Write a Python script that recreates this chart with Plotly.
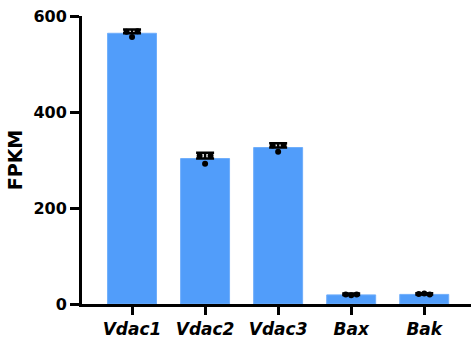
import plotly.graph_objects as go

genes = ["Vdac1", "Vdac2", "Vdac3", "Bax", "Bak"]
means = [564, 303, 326, 19, 20]
errors = [8, 12, 9, 3, 2.5]
rep1 = [567, 309, 330, 20, 21]
rep2 = [556, 292, 317, 18, 22]
rep3 = [568, 309, 331, 20, 20]
y_ticks = [0, 200, 400, 600]

xpos = list(range(len(genes)))

fig = go.Figure()
fig.add_trace(go.Bar(
    x=xpos, y=means, width=0.67,
    marker=dict(color="#519DFA", line=dict(color="#6FAEFB", width=1)),
    error_y=dict(type="data", array=errors, arrayminus=[0]*len(errors),
                 symmetric=False, color="black", thickness=2.5, width=9),
    cliponaxis=False, showlegend=False,
))
off = 0.075
for reps, dx in [(rep1, -off), (rep2, 0), (rep3, off)]:
    fig.add_trace(go.Scatter(
        x=[p + dx for p in xpos], y=reps, mode="markers",
        marker=dict(color="black", size=6),
        cliponaxis=False, showlegend=False,
    ))

font_family = "DejaVu Sans, Arial, sans-serif"
fig.update_layout(
    width=471, height=345,
    margin=dict(l=82, r=0, t=16, b=41, autoexpand=False),
    plot_bgcolor="white", paper_bgcolor="white",
    font=dict(family=font_family, color="black"),
    xaxis=dict(
        range=[-0.685, 4.64],
        tickvals=xpos,
        ticktext=[f"<b><i>{g}</i></b>" for g in genes],
        showline=True, linecolor="black", linewidth=3,
        ticks="outside", ticklen=8, tickwidth=2.5, tickcolor="black",
        tickfont=dict(size=17, family=font_family),
        showgrid=False, zeroline=False, automargin=False,
    ),
    yaxis=dict(
        range=[0, 600],
        tickvals=y_ticks,
        ticktext=[f"<b>{t}</b>" for t in y_ticks],
        showline=True, linecolor="black", linewidth=3,
        ticks="outside", ticklen=9, tickwidth=2.5, tickcolor="black",
        tickfont=dict(size=16, family=font_family),
        title=dict(text="<b>FPKM</b>", font=dict(size=19, family=font_family), standoff=6),
        showgrid=False, zeroline=False, automargin=False,
    ),
)
fig.write_html("out.html", config={"displayModeBar": False})
with open("out.html", "r", encoding="utf-8") as f:
    html = f.read()
html = html.replace("<head>", "<head><style>html,body{margin:0;padding:0;overflow:hidden;}</style>", 1)
with open("out.html", "w", encoding="utf-8") as f:
    f.write(html)
